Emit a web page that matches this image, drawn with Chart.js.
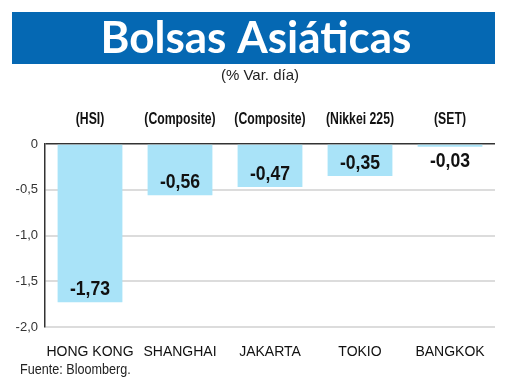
<!DOCTYPE html>
<html><head><meta charset="utf-8">
<script src="https://cdn.jsdelivr.net/npm/chart.js@4"></script>
<style>html,body{margin:0;padding:0;background:#fff}#wrap{width:520px;height:390px}</style>
</head><body><div id="wrap"><canvas id="c" width="520" height="390"></canvas></div>
<script>
const categories = ['HONG KONG', 'SHANGHAI', 'JAKARTA', 'TOKIO', 'BANGKOK'];
const indexNames = ['(HSI)', '(Composite)', '(Composite)', '(Nikkei 225)', '(SET)'];
const values = [-1.73, -0.56, -0.47, -0.35, -0.03];
const yTicks = [0, -0.5, -1.0, -1.5, -2.0];
const titleText = 'Bolsas Asiáticas';
const subtitleText = '(% Var. día)';
const sourceText = 'Fuente: Bloomberg.';

function narrowText(ctx, text, x, y, sx) {
  ctx.save();
  ctx.translate(x, y);
  ctx.scale(sx, 1);
  ctx.fillText(text, 0, 0);
  ctx.restore();
}

const decor = {
  id: 'decor',
  beforeDraw(chart) {
    const ctx = chart.ctx;
    ctx.save();
    ctx.fillStyle = '#fff';
    ctx.fillRect(0, 0, chart.width, chart.height);
    ctx.fillStyle = '#0568b3';
    ctx.fillRect(12, 12, 483, 52);
    ctx.fillStyle = '#fff';
    ctx.textAlign = 'center';
    ctx.textBaseline = 'middle';
    ctx.font = 'bold 44px Lato';
    ctx.fillText(titleText, 256, 39);
    ctx.fillStyle = '#222';
    ctx.font = '15px "Liberation Sans"';
    ctx.fillText(subtitleText, 260, 76);
    ctx.textAlign = 'left';
    ctx.font = '14px "Liberation Sans"';
    narrowText(ctx, sourceText, 20, 370, 0.9);
    const xs = chart.scales.x;
    ctx.textAlign = 'center';
    ctx.fillStyle = '#111';
    ctx.font = 'bold 17px "Liberation Sans"';
    indexNames.forEach((n, i) => narrowText(ctx, n, xs.getPixelForValue(i), 119, 0.72));
    ctx.restore();
  },
  afterDatasetsDraw(chart) {
    const ctx = chart.ctx;
    const meta = chart.getDatasetMeta(0);
    const zero = chart.scales.y.getPixelForValue(0);
    ctx.save();
    ctx.fillStyle = '#111';
    ctx.textAlign = 'center';
    ctx.textBaseline = 'middle';
    ctx.font = 'bold 20px "Liberation Sans"';
    meta.data.forEach((el, i) => {
      const y = Math.max(el.y - 13, zero + 17);
      narrowText(ctx, values[i].toFixed(2).replace('.', ','), el.x, y, 0.88);
    });
    ctx.restore();
  }
};

new Chart(document.getElementById('c'), {
  type: 'bar',
  data: {
    labels: categories,
    datasets: [{
      data: values,
      backgroundColor: '#a9e3f8',
      borderWidth: 0,
      categoryPercentage: 1,
      barPercentage: 0.72
    }]
  },
  options: {
    responsive: false,
    animation: false,
    devicePixelRatio: 1,
    layout: { padding: { left: 0, right: 25, top: 144, bottom: 0 } },
    plugins: { legend: { display: false }, tooltip: { enabled: false } },
    scales: {
      x: {
        grid: { display: false },
        border: { display: false },
        ticks: { color: '#111', font: { family: 'Liberation Sans', size: 14 }, padding: 9, maxRotation: 0, autoSkip: false },
        afterFit(s) { s.height = 63; }
      },
      y: {
        min: -2, max: 0,
        afterBuildTicks(s) { s.ticks = yTicks.map(v => ({ value: v })); },
        ticks: {
          color: '#333',
          font: { family: 'Liberation Sans', size: 13 },
          padding: 7,
          callback: v => v === 0 ? '0' : v.toFixed(1).replace('.', ',')
        },
        grid: {
          drawTicks: false,
          color: c => c.tick && c.tick.value === 0 ? '#333' : '#dcdcdc',
          lineWidth: c => c.tick && c.tick.value === 0 ? 1.5 : 2
        },
        border: { display: true, color: '#333', width: 1.5 },
        afterFit(s) { s.width = 45; }
      }
    }
  },
  plugins: [decor]
});
</script></body></html>
